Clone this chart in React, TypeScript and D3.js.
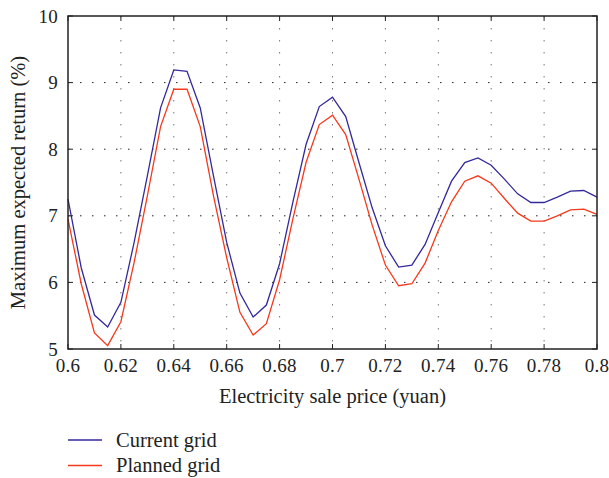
import React, { useEffect, useRef } from 'react';
import * as d3 from 'd3';

const prices = d3.range(41).map((i) => +(0.6 + i * 0.005).toFixed(3));
const currentGrid = [
  7.25, 6.22, 5.51, 5.33, 5.7, 6.6, 7.6, 8.62, 9.19, 9.17, 8.62, 7.6, 6.6, 5.84, 5.48, 5.66,
  6.28, 7.2, 8.07, 8.64, 8.78, 8.49, 7.8, 7.12, 6.55, 6.23, 6.26, 6.57, 7.05, 7.52, 7.8, 7.87,
  7.76, 7.55, 7.33, 7.2, 7.2, 7.28, 7.37, 7.38, 7.28,
];
const plannedGrid = [
  6.95, 5.98, 5.24, 5.05, 5.41, 6.3, 7.3, 8.34, 8.9, 8.9, 8.34, 7.3, 6.37, 5.55, 5.21, 5.38,
  6.04, 6.95, 7.8, 8.37, 8.51, 8.22, 7.55, 6.86, 6.26, 5.95, 5.98, 6.29, 6.78, 7.21, 7.52, 7.6,
  7.49, 7.26, 7.04, 6.92, 6.92, 7.0, 7.09, 7.1, 7.02,
];
const xTicks = [0.6, 0.62, 0.64, 0.66, 0.68, 0.7, 0.72, 0.74, 0.76, 0.78, 0.8];
const yTicks = [5, 6, 7, 8, 9, 10];
const seriesNames = ['Current grid', 'Planned grid'];
const seriesColors = ['#33299b', '#f5391c'];

const M = { top: 16, right: 12, bottom: 129, left: 68 };
const FONT = '"Liberation Serif", "DejaVu Serif", serif';
const TEXT = '#222';

export default function App() {
  const ref = useRef<SVGSVGElement>(null);

  useEffect(() => {
    const el = ref.current;
    if (!el) return;
    const width = 609;
    const height = 478;
    const innerW = width - M.left - M.right;
    const innerH = height - M.top - M.bottom;

    const svg = d3.select(el);
    svg.selectAll('*').remove();

    const x = d3.scaleLinear().domain([0.6, 0.8]).range([0, innerW]);
    const y = d3.scaleLinear().domain([5, 10]).range([innerH, 0]);

    const g = svg.append('g').attr('transform', `translate(${M.left},${M.top})`);

    // dotted grid
    g.selectAll('line.vgrid')
      .data(xTicks.slice(1, -1))
      .join('line')
      .attr('x1', (d) => x(d))
      .attr('x2', (d) => x(d))
      .attr('y1', 0)
      .attr('y2', innerH)
      .attr('stroke', '#777')
      .attr('stroke-width', 1)
      .attr('stroke-dasharray', '1.5,10.5');
    g.selectAll('line.hgrid')
      .data(yTicks.slice(1, -1))
      .join('line')
      .attr('x1', 0)
      .attr('x2', innerW)
      .attr('y1', (d) => y(d))
      .attr('y2', (d) => y(d))
      .attr('stroke', '#222')
      .attr('stroke-width', 1)
      .attr('stroke-dasharray', '1.5,10.5');

    // lines
    const data = [currentGrid, plannedGrid];
    const line = d3
      .line<number>()
      .x((_, i) => x(prices[i]))
      .y((d) => y(d));
    data.forEach((s, i) => {
      g.append('path')
        .datum(s)
        .attr('d', line)
        .attr('fill', 'none')
        .attr('stroke', seriesColors[i])
        .attr('stroke-width', 1.3);
    });

    // frame
    g.append('rect')
      .attr('width', innerW)
      .attr('height', innerH)
      .attr('fill', 'none')
      .attr('stroke', '#222')
      .attr('stroke-width', 1.5);

    // inward ticks
    const tl = 5;
    xTicks.forEach((t) => {
      g.append('line').attr('x1', x(t)).attr('x2', x(t)).attr('y1', innerH).attr('y2', innerH - tl).attr('stroke', '#222');
      g.append('line').attr('x1', x(t)).attr('x2', x(t)).attr('y1', 0).attr('y2', tl).attr('stroke', '#222');
    });
    yTicks.forEach((t) => {
      g.append('line').attr('x1', 0).attr('x2', tl).attr('y1', y(t)).attr('y2', y(t)).attr('stroke', '#222');
      g.append('line').attr('x1', innerW).attr('x2', innerW - tl).attr('y1', y(t)).attr('y2', y(t)).attr('stroke', '#222');
    });

    // tick labels
    g.selectAll('text.xt')
      .data(xTicks)
      .join('text')
      .attr('x', (d) => x(d))
      .attr('y', innerH + 23)
      .attr('text-anchor', 'middle')
      .attr('font-family', FONT)
      .attr('font-size', 19)
      .attr('letter-spacing', 0.3)
      .attr('fill', TEXT)
      .text((d) => d3.format('')(d));
    g.selectAll('text.yt')
      .data(yTicks)
      .join('text')
      .attr('x', -10)
      .attr('y', (d) => y(d) + 6.5)
      .attr('text-anchor', 'end')
      .attr('font-family', FONT)
      .attr('font-size', 19)
      .attr('letter-spacing', 0.3)
      .attr('fill', TEXT)
      .text((d) => d);

    // axis titles
    g.append('text')
      .attr('x', innerW / 2)
      .attr('y', innerH + 54)
      .attr('text-anchor', 'middle')
      .attr('font-family', FONT)
      .attr('font-size', 20.5)
      .attr('fill', TEXT)
      .text('Electricity sale price (yuan)');
    g.append('text')
      .attr('transform', 'rotate(-90)')
      .attr('x', -innerH / 2)
      .attr('y', -43)
      .attr('text-anchor', 'middle')
      .attr('font-family', FONT)
      .attr('font-size', 20.5)
      .attr('fill', TEXT)
      .text('Maximum expected return (%)');

    // legend
    const lg = svg.append('g').attr('transform', 'translate(68,440)');
    seriesNames.forEach((n, i) => {
      lg.append('line')
        .attr('x1', 0)
        .attr('x2', 34)
        .attr('y1', i * 25.5)
        .attr('y2', i * 25.5)
        .attr('stroke', seriesColors[i])
        .attr('stroke-width', 1.3);
      lg.append('text')
        .attr('x', 48)
        .attr('y', i * 25.5 + 6.5)
        .attr('font-family', FONT)
        .attr('font-size', 20.5)
        .attr('fill', TEXT)
        .text(n);
    });
  }, []);

  return (
    <svg
      ref={ref}
      width={609}
      height={478}
      style={{ position: 'absolute', left: 0, top: 0, background: '#fff' }}
    />
  );
}
